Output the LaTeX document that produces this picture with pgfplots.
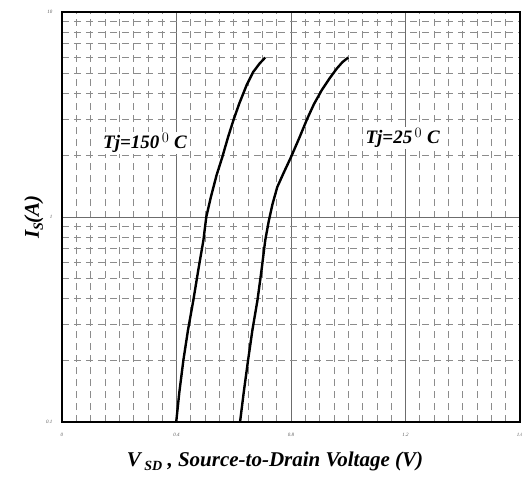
\documentclass[border=0pt]{standalone}
\usepackage{pgfplots}
\pgfplotsset{compat=1.18}
\usepackage{fontspec}
\setmainfont{Liberation Serif}
\begin{document}
\begin{tikzpicture}
\begin{axis}[
  scale only axis,
  width=458pt, height=410pt,
  xmin=0, xmax=1.6,
  ymode=log, ymin=0.1, ymax=10,
  xtick={0,0.4,0.8,1.2,1.6},
  xticklabels={0,0.4,0.8,1.2,1.6},
  minor x tick num=7,
  ytick={0.1,1,10},
  yticklabels={0.1,1,10},
  minor ytick={0.2,0.3,0.4,0.5,0.6,0.7,0.8,0.9,2,3,4,5,6,7,8,9},
  grid=both,
  major grid style={solid, gray!85!black, line width=0.7pt},
  minor grid style={dash pattern=on 7pt off 5pt, gray!90, line width=0.7pt},
  axis line style={line width=1.8pt},
  tick style={draw=none},
  ticklabel style={font=\fontsize{5}{6}\selectfont\itshape, gray!70!black},
  /pgf/number format/assume math mode=true,
  xticklabel style={yshift=-8pt},
  yticklabel style={xshift=-6pt},
  xlabel={\fontsize{21}{24}\selectfont\bfseries\itshape V\,{\fontsize{14}{16}\selectfont\raisebox{-4pt}{SD}}\ , Source-to-Drain Voltage (V)},
  ylabel={\fontsize{21}{24}\selectfont\bfseries\itshape I{\fontsize{14}{16}\selectfont\raisebox{-4pt}{S}}(A)},
  xlabel style={yshift=-8pt, xshift=-16pt},
  ylabel style={yshift=-4pt},
  clip=true,
]
\addplot[black, line width=2.4pt, line join=round] coordinates {
  (0.399,0.1) (0.410,0.14) (0.424,0.2) (0.440,0.28) (0.459,0.394) (0.476,0.55) (0.494,0.77) (0.504,1.0) (0.52,1.25) (0.54,1.6) (0.56,1.96) (0.58,2.45) (0.60,3.0) (0.62,3.6) (0.645,4.4) (0.668,5.1) (0.69,5.6) (0.71,6.0)
};
\addplot[black, line width=2.4pt, line join=round] coordinates {
  (0.622,0.1) (0.635,0.14) (0.65,0.2) (0.665,0.28) (0.683,0.394) (0.697,0.55) (0.71,0.77) (0.722,0.95) (0.735,1.15) (0.752,1.4) (0.775,1.65) (0.80,1.96) (0.83,2.45) (0.856,3.0) (0.88,3.55) (0.908,4.17) (0.935,4.75) (0.96,5.3) (0.98,5.7) (1.0,6.0)
};
\node[font=\fontsize{19}{22}\selectfont\bfseries\itshape, fill=white, inner sep=1pt] at (axis cs:0.29,2.3) {Tj=150$^{\,0}$ C};
\node[font=\fontsize{19}{22}\selectfont\bfseries\itshape, fill=white, inner sep=1pt] at (axis cs:1.19,2.43) {Tj=25$^{\,0}$ C};
\end{axis}
\pgfresetboundingbox
\path (current axis.south west) ++(-62pt,-60pt) coordinate (bl);
\path (current axis.north east) ++(2pt,12pt) coordinate (tr);
\path (bl) rectangle (tr);
\end{tikzpicture}
\end{document}
